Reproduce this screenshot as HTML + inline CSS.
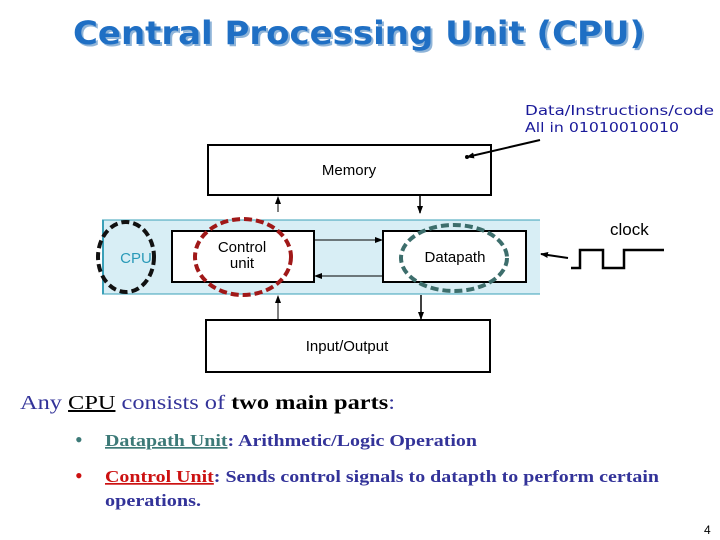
<!DOCTYPE html>
<html><head><meta charset="utf-8"><style>
html,body{margin:0;padding:0;background:#fff;width:720px;height:540px;overflow:hidden}
</style></head><body>
<svg width="720" height="540" viewBox="0 0 720 540" xmlns="http://www.w3.org/2000/svg">
<defs>
<marker id="a" markerWidth="8" markerHeight="8" refX="7" refY="4" orient="auto" markerUnits="userSpaceOnUse"><path d="M0,1 L8,4 L0,7 z" fill="#000"/></marker>
</defs>
<!-- Title -->
<text x="75" y="46" font-family="DejaVu Sans, sans-serif" font-weight="bold" font-size="32" fill="#8fb4d8" textLength="572" lengthAdjust="spacingAndGlyphs">Central Processing Unit (CPU)</text>
<text x="73" y="44" font-family="DejaVu Sans, sans-serif" font-weight="bold" font-size="32" fill="#1f6fc4" textLength="572" lengthAdjust="spacingAndGlyphs">Central Processing Unit (CPU)</text>
<!-- annotation -->
<text x="525" y="115" font-family="DejaVu Sans, sans-serif" font-size="13" fill="#1a1a9a" textLength="189" lengthAdjust="spacingAndGlyphs">Data/Instructions/code</text>
<text x="525" y="132" font-family="DejaVu Sans, sans-serif" font-size="13" fill="#1a1a9a" textLength="154" lengthAdjust="spacingAndGlyphs">All in 01010010010</text>
<!-- CPU band -->
<rect x="102" y="220" width="438" height="74" fill="#d8eef5"/>
<line x1="102" y1="220" x2="540" y2="220" stroke="#3aa0b8" stroke-width="1"/>
<line x1="102" y1="294" x2="540" y2="294" stroke="#3aa0b8" stroke-width="1"/>
<line x1="103" y1="220" x2="103" y2="294" stroke="#3aa0b8" stroke-width="2"/>
<!-- boxes -->
<rect x="208" y="145" width="283" height="50" fill="#fff" stroke="#000" stroke-width="2"/>
<text x="349" y="175" text-anchor="middle" font-family="Liberation Sans, sans-serif" font-size="15">Memory</text>
<rect x="172" y="231" width="142" height="51" fill="#fff" stroke="#000" stroke-width="2"/>
<text x="242" y="252" text-anchor="middle" font-family="Liberation Sans, sans-serif" font-size="15">Control</text>
<text x="242" y="268" text-anchor="middle" font-family="Liberation Sans, sans-serif" font-size="15">unit</text>
<rect x="383" y="231" width="143" height="51" fill="#fff" stroke="#000" stroke-width="2"/>
<text x="455" y="262" text-anchor="middle" font-family="Liberation Sans, sans-serif" font-size="15">Datapath</text>
<rect x="206" y="320" width="284" height="52" fill="#fff" stroke="#000" stroke-width="2"/>
<text x="347" y="351" text-anchor="middle" font-family="Liberation Sans, sans-serif" font-size="15">Input/Output</text>
<text x="136" y="263" text-anchor="middle" font-family="Liberation Sans, sans-serif" font-size="15" fill="#2a9ab8">CPU</text>
<line x1="540" y1="140" x2="467" y2="157" stroke="#000" stroke-width="2" marker-end="url(#a)"/>
<circle cx="467" cy="157" r="2" fill="#000"/>
<!-- arrows -->
<line x1="278" y1="212" x2="278" y2="197" stroke="#000" stroke-width="1" marker-end="url(#a)"/>
<line x1="420" y1="196" x2="420" y2="213" stroke="#000" stroke-width="1.5" marker-end="url(#a)"/>
<line x1="314" y1="240" x2="382" y2="240" stroke="#000" stroke-width="1" marker-end="url(#a)"/>
<line x1="383" y1="276" x2="315" y2="276" stroke="#000" stroke-width="1" marker-end="url(#a)"/>
<line x1="278" y1="320" x2="278" y2="296" stroke="#000" stroke-width="1" marker-end="url(#a)"/>
<line x1="421" y1="295" x2="421" y2="319" stroke="#000" stroke-width="1.5" marker-end="url(#a)"/>
<!-- ellipses -->
<ellipse cx="126" cy="257" rx="28" ry="35" fill="none" stroke="#111" stroke-width="4" stroke-dasharray="8,4"/>
<ellipse cx="243" cy="257" rx="48" ry="38" fill="none" stroke="#a01818" stroke-width="4" stroke-dasharray="8,4"/>
<ellipse cx="454" cy="258" rx="53" ry="33" fill="none" stroke="#3d6e6c" stroke-width="4" stroke-dasharray="8,4"/>
<!-- clock -->
<text x="610" y="235" font-family="Liberation Sans, sans-serif" font-size="17">clock</text>
<line x1="568" y1="258" x2="541" y2="254" stroke="#000" stroke-width="2" marker-end="url(#a)"/>
<polyline points="571,268 580,268 580,250 603,250 603,268 624,268 624,250 664,250" fill="none" stroke="#000" stroke-width="2.5"/>
<!-- text -->
<text x="20" y="409" font-family="Liberation Serif, serif" font-size="20" fill="#333399" textLength="375" lengthAdjust="spacingAndGlyphs">Any <tspan fill="#000" text-decoration="underline">CPU</tspan> consists of <tspan fill="#000" font-weight="bold">two main parts</tspan>:</text>
<text x="75" y="447" font-family="Liberation Serif, serif" font-size="22" fill="#3d7a78">•</text>
<text x="105" y="446" font-family="Liberation Serif, serif" font-weight="bold" font-size="17" fill="#333399" textLength="372" lengthAdjust="spacingAndGlyphs"><tspan fill="#3d7a78" text-decoration="underline">Datapath Unit</tspan>: Arithmetic/Logic Operation</text>
<text x="75" y="483" font-family="Liberation Serif, serif" font-size="22" fill="#cc1111">•</text>
<text x="105" y="482" font-family="Liberation Serif, serif" font-weight="bold" font-size="17" fill="#333399" textLength="554" lengthAdjust="spacingAndGlyphs"><tspan fill="#cc1111" text-decoration="underline">Control Unit</tspan>: Sends control signals to datapth to perform certain</text>
<text x="105" y="506" font-family="Liberation Serif, serif" font-weight="bold" font-size="17" fill="#333399" textLength="96" lengthAdjust="spacingAndGlyphs">operations.</text>
<text x="704" y="534" font-family="Liberation Sans, sans-serif" font-size="12">4</text>
</svg>
</body></html>
